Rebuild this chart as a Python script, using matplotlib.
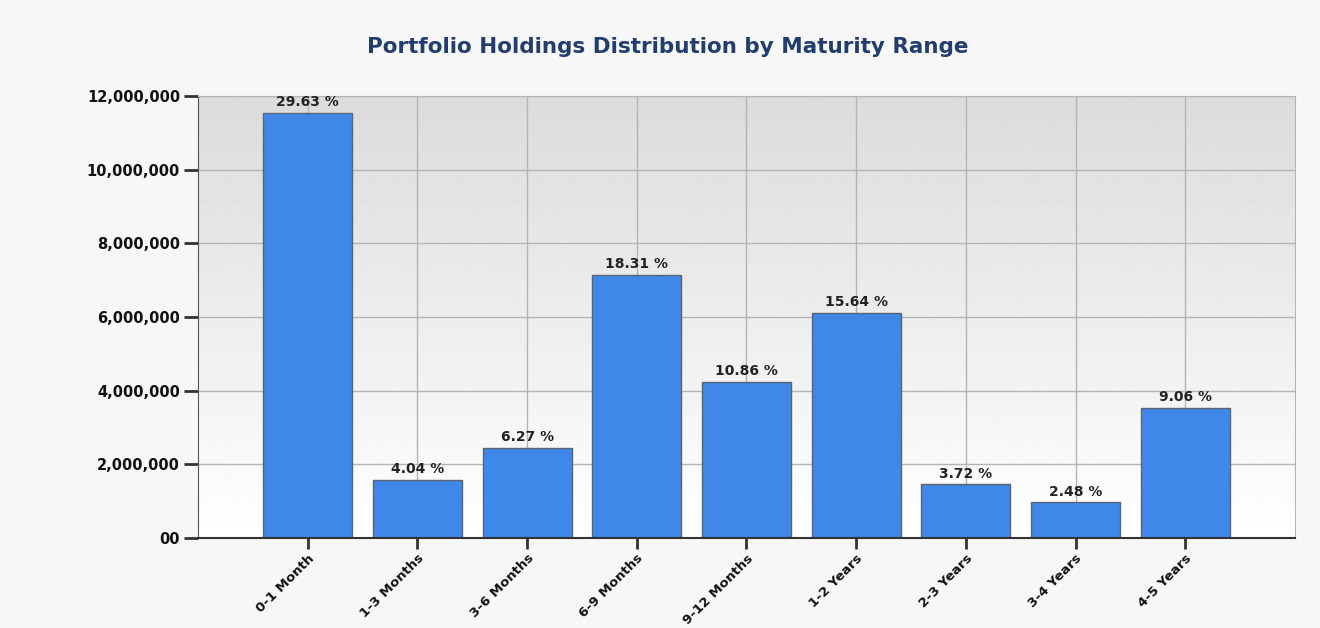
import matplotlib.pyplot as plt
import numpy as np
from matplotlib.ticker import FuncFormatter

categories = ['0-1 Month', '1-3 Months', '3-6 Months', '6-9 Months', '9-12 Months',
              '1-2 Years', '2-3 Years', '3-4 Years', '4-5 Years']
values = [11540000, 1580000, 2450000, 7150000, 4240000, 6110000, 1460000, 970000, 3540000]
percents = [29.63, 4.04, 6.27, 18.31, 10.86, 15.64, 3.72, 2.48, 9.06]

fig = plt.figure(figsize=(13.2, 6.28), dpi=100, facecolor='#f7f7f7')
ax = fig.add_axes([0.15, 0.1433, 0.831, 0.7038])

x = np.arange(len(categories))
ax.set_xlim(-1, len(categories))
ax.set_ylim(0, 12000000)

# gradient background of plot area
grad = np.linspace(1.0, 0.86, 256).reshape(-1, 1)
ax.imshow(grad, cmap='gray', vmin=0, vmax=1, aspect='auto',
          extent=(-1, len(categories), 0, 12000000), origin='lower', zorder=0)

ax.grid(True, color='#b4b4b4', lw=1, zorder=1)
ax.set_axisbelow(True)

ax.bar(x, values, width=0.81, color='#3f88ea', edgecolor='#5a6470', lw=1, zorder=2)

for xi, v, p in zip(x, values, percents):
    ax.text(xi, v + 100000, f'{p:.2f} %', ha='center', va='bottom',
            fontsize=10, fontweight='bold', color='#222222', zorder=3)

ax.set_yticks(np.arange(0, 12000001, 2000000))
ax.yaxis.set_major_formatter(FuncFormatter(lambda v, _: '00' if v == 0 else f'{int(v):,}'))
ax.set_xticks(x)
ax.set_xticklabels(categories, rotation=45, ha='right', rotation_mode='anchor')

ax.tick_params(axis='y', length=10, width=2, color='#333333', labelsize=10.5, pad=3)
ax.tick_params(axis='x', length=8, width=2, color='#333333', labelsize=9.5, pad=2)
for lbl in ax.get_xticklabels() + ax.get_yticklabels():
    lbl.set_fontweight('bold')
    lbl.set_color('#111111')

ax.spines['left'].set_color('#555555')
ax.spines['bottom'].set_color('#333333')
ax.spines['bottom'].set_linewidth(1.5)
ax.spines['right'].set_color('#b4b4b4')
ax.spines['top'].set_color('#b4b4b4')

fig.text(0.506, 0.925, 'Portfolio Holdings Distribution by Maturity Range',
         ha='center', va='center', fontsize=15.5, fontweight='bold', color='#233d6e')

fig.savefig('out.png', dpi=100, facecolor=fig.get_facecolor())
